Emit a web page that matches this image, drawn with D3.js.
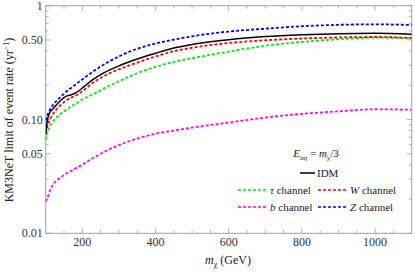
<!DOCTYPE html>
<html><head><meta charset="utf-8">
<script src="https://cdn.jsdelivr.net/npm/d3@7/dist/d3.min.js"></script>
<style>body{margin:0;background:#fff}svg{display:block}text{font-family:"Liberation Serif","DejaVu Serif",serif}</style>
</head><body><svg id="c" width="415" height="272"></svg>
<script>
const mass = [100,105,110,120,135,150,160,170,180,190,200,225,250,275,300,325,350,400,450,500,550,600,700,800,900,1000,1100];
const zChan = [0.098,0.110,0.119,0.134,0.152,0.168,0.180,0.190,0.201,0.213,0.225,0.258,0.292,0.326,0.358,0.390,0.418,0.465,0.503,0.538,0.568,0.593,0.628,0.660,0.679,0.686,0.677];
const idm   = [0.075,0.100,0.113,0.124,0.141,0.156,0.162,0.165,0.170,0.178,0.189,0.220,0.248,0.273,0.296,0.318,0.340,0.382,0.425,0.457,0.482,0.503,0.535,0.555,0.568,0.572,0.560];
const wChan = [0.076,0.088,0.097,0.112,0.128,0.142,0.150,0.156,0.161,0.168,0.177,0.205,0.232,0.255,0.276,0.296,0.316,0.358,0.398,0.427,0.451,0.470,0.497,0.515,0.526,0.531,0.520];
const tauChan = [0.066,0.077,0.085,0.096,0.108,0.118,0.124,0.131,0.137,0.143,0.150,0.164,0.181,0.199,0.217,0.236,0.255,0.290,0.320,0.346,0.370,0.395,0.445,0.480,0.507,0.524,0.517];
const bChan = [0.019,0.0205,0.023,0.0268,0.030,0.0325,0.034,0.0355,0.037,0.0385,0.040,0.045,0.050,0.055,0.0595,0.064,0.068,0.075,0.080,0.085,0.0895,0.094,0.104,0.112,0.118,0.123,0.122];
const xTickLabels = [200,400,600,800,1000];
const yTickLabels = ["0.01","0.05","0.10","0.50","1"];

const svg = d3.select("#c");
const L=45.7, R=411.7, T=5.7, B=233.3;
const x = d3.scaleLinear().domain([100,1100]).range([L,R]);
const y = d3.scaleLog().domain([0.01,1]).range([B,T]);

const frameCol="#a0a0a0";
svg.append("rect").attr("x",L).attr("y",T).attr("width",R-L).attr("height",B-T)
  .attr("fill","none").attr("stroke",frameCol).attr("stroke-width",1);

const xt = d3.range(150,1100,50);
const g = svg.append("g").attr("stroke",frameCol).attr("stroke-width",0.8);
xt.forEach(v=>{
  const len = (v%200===0)?5:3;
  g.append("line").attr("x1",x(v)).attr("x2",x(v)).attr("y1",B).attr("y2",B-len);
  g.append("line").attr("x1",x(v)).attr("x2",x(v)).attr("y1",T).attr("y2",T+len);
});
const yt=[];
[0.01,0.1].forEach(d=>{for(let k=1;k<10;k++) yt.push(d*k);});
yt.push(1);
yt.forEach(v=>{
  const major = yTickLabels.map(Number).some(t=>Math.abs(t-v)<1e-9);
  const len = major?5:3;
  g.append("line").attr("x1",L).attr("x2",L+len).attr("y1",y(v)).attr("y2",y(v));
  g.append("line").attr("x1",R).attr("x2",R-len).attr("y1",y(v)).attr("y2",y(v));
});

svg.selectAll(".xl").data(xTickLabels).enter().append("text")
  .attr("x",d=>x(d)).attr("y",B+13).attr("text-anchor","middle").attr("font-size",12).attr("fill","#333").text(d=>d);
svg.selectAll(".yl").data(yTickLabels).enter().append("text")
  .attr("x",L-3).attr("y",d=>y(+d)+4).attr("text-anchor","end").attr("font-size",12).attr("fill","#333").text(d=>d);

const xl = svg.append("text").attr("x",228).attr("y",264).attr("text-anchor","middle").attr("font-size",12).attr("fill","#222");
xl.append("tspan").attr("font-style","italic").text("m");
xl.append("tspan").attr("font-size",8).attr("dy",3).text("χ");
xl.append("tspan").attr("dy",-3).text(" (GeV)");
const yl = svg.append("text").attr("transform","translate(13,120) rotate(-90)").attr("text-anchor","middle").attr("font-size",12).attr("fill","#222");
yl.append("tspan").text("KM3NeT limit of event rate (yr");
yl.append("tspan").attr("font-size",8).attr("dy",-4).text("−1");
yl.append("tspan").attr("dy",4).text(")");

const line = d3.line().x(d=>x(d[0])).y(d=>y(d[1])).curve(d3.curveMonotoneX);
const series = [
  {v:bChan,c:"#ff00ff",dash:"3,2",w:1.8},
  {v:tauChan,c:"#00ee00",dash:"3,2",w:1.8},
  {v:wChan,c:"#ff0000",dash:"3,2",w:1.8},
  {v:zChan,c:"#0000ff",dash:"3,2",w:1.8},
  {v:idm,c:"#000000",dash:null,w:1.5}
];
svg.append("clipPath").attr("id","cp").append("rect").attr("x",L).attr("y",T).attr("width",R-L).attr("height",B-T);
series.forEach(s=>{
  svg.append("path").datum(mass.map((m,i)=>[m,s.v[i]])).attr("d",line)
    .attr("fill","none").attr("stroke",s.c).attr("stroke-width",s.w)
    .attr("stroke-dasharray",s.dash).attr("clip-path","url(#cp)");
});

const et = svg.append("text").attr("x",316).attr("y",157).attr("text-anchor","middle").attr("font-size",11).attr("fill","#222");
et.append("tspan").attr("font-style","italic").text("E");
et.append("tspan").attr("font-size",7).attr("dy",3).text("inj");
et.append("tspan").attr("dy",-3).text(" = ");
et.append("tspan").attr("font-style","italic").text("m");
et.append("tspan").attr("font-size",7).attr("dy",3).text("χ");
et.append("tspan").attr("dy",-3).text("/3");

svg.append("line").attr("x1",300).attr("x2",315).attr("y1",173).attr("y2",173).attr("stroke","#000").attr("stroke-width",1.5);
svg.append("text").attr("x",317).attr("y",177).attr("font-size",11).attr("fill","#222").text("IDM");

const leg = [
  {c:"#00ee00",sym:"τ",x:238,y:190},
  {c:"#ff0000",sym:"W",x:318,y:190},
  {c:"#ff00ff",sym:"b",x:238,y:207},
  {c:"#0000ff",sym:"Z",x:318,y:207}
];
leg.forEach(l=>{
  svg.append("line").attr("x1",l.x).attr("x2",l.x+29).attr("y1",l.y).attr("y2",l.y)
    .attr("stroke",l.c).attr("stroke-width",1.5).attr("stroke-dasharray","3,2");
  const t = svg.append("text").attr("x",l.x+32).attr("y",l.y+4).attr("font-size",11).attr("fill","#222");
  t.append("tspan").attr("font-style","italic").text(l.sym);
  t.append("tspan").text(" channel");
});
</script></body></html>
